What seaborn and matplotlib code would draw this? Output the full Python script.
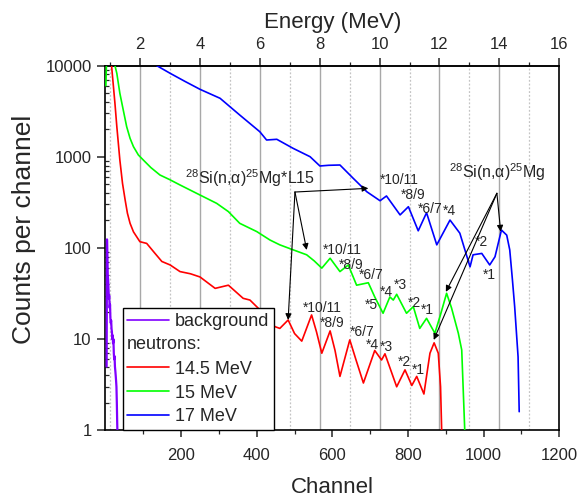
import numpy as np
import pandas as pd
import matplotlib
matplotlib.use("Agg")
import matplotlib.pyplot as plt
import seaborn as sns
from matplotlib.text import Text
from matplotlib.lines import Line2D
from matplotlib.ticker import FixedLocator, FuncFormatter, NullFormatter

# ---------------- data ----------------
bg_channel = [3, 4, 5, 6, 7, 8, 9, 10, 11, 12, 13, 14, 15, 16, 17, 18, 19, 20,
              21, 22, 23, 24, 25, 26, 27, 28, 29, 30, 31, 32]
bg_counts = [5, 124, 80, 50, 45, 35, 28, 30, 22, 24, 17, 15, 16, 13, 12, 10, 11, 9,
             10, 7, 6, 6.5, 5, 4.5, 4, 3.5, 3, 2, 1.2, 0.8]

n145_channel = [8, 16, 25, 30, 38, 45, 52, 58, 65, 74, 91, 109, 130, 149, 171, 197, 225,
                250, 290, 325, 364, 382, 404, 425, 448, 461, 483, 500, 519, 545, 558,
                572, 594, 607, 620, 646, 662, 682, 712, 730, 739, 770, 792, 810, 823,
                842, 858, 869, 880, 886, 889, 893]
n145_counts = [30000, 10000, 3850, 2133, 920, 511, 335, 240, 186, 150, 117, 112, 88, 71,
               65, 55, 52, 48, 36, 39, 28, 26.8, 21.8, 17, 13.7, 13.1, 16.2, 11.5, 9.5,
               18.4, 12, 7.0, 12.3, 7.5, 3.9, 9.8, 6.0, 3.3, 7.5, 5.9, 6.9, 3.0, 4.6, 3.1,
               3.9, 2.5, 7.0, 9.1, 7.0, 3.0, 1.0, 0.5]

n15_channel = [1, 3, 10, 25, 30, 34, 38, 47, 56, 65, 74, 87, 100, 120, 144, 170, 197, 250,
               294, 325, 355, 400, 435, 461, 497, 532, 552, 572, 594, 620, 642, 664, 695,
               712, 734, 752, 761, 770, 796, 814, 831, 849, 871, 885, 902, 915, 933, 942,
               950, 954]
n15_counts = [6000, 12000, 20000, 10000, 8200, 6380, 4960, 3250, 2135, 1590, 1288, 1044,
              920, 760, 630, 560, 490, 380, 308, 250, 186, 151, 122, 108, 95, 84, 72, 60,
              77, 55, 65, 39, 41.5, 29, 19.2, 29, 26.8, 31, 19.2, 22.7, 13.1, 16.9, 11.6,
              18, 31.8, 22, 11.6, 7.6, 1.0, 0.5]

n17_channel = [110, 135, 171, 210, 250, 303, 355, 408, 426, 453, 496, 541, 567, 590, 620,
               655, 682, 691, 726, 743, 779, 801, 827, 849, 876, 911, 937, 964, 972, 995,
               1016, 1030, 1047, 1061, 1069, 1076, 1082, 1091, 1094]
n17_counts = [14000, 10000, 8210, 6700, 5480, 4370, 2865, 1880, 1524, 1552, 1236, 1000,
              791, 805, 811, 580, 450, 413, 329, 371, 230, 283, 154, 243, 108, 202, 145,
              62, 84, 87, 65, 80, 157, 138, 95, 45, 22.7, 6.4, 1.6]

series_labels = ["background", "14.5 MeV", "15 MeV", "17 MeV"]
series_colors = ["#8000ff", "#ff0000", "#00ff00", "#0000ff"]

x_ticks = [200, 400, 600, 800, 1000, 1200]
y_ticks = [1, 10, 100, 1000, 10000]
energy_ticks = [2, 4, 6, 8, 10, 12, 14, 16]
energy_minor = [1, 3, 5, 7, 9, 11, 13, 15]

# peak labels: (text, channel, counts)
blue_labels = [("*10/11", 778, 556), ("*8/9", 813, 381), ("*6/7", 859, 267),
               ("*4", 909, 254), ("*2", 995, 116), ("*1", 1016, 50)]
green_labels = [("*10/11", 625, 95), ("*8/9", 649, 65), ("*6/7", 702, 50),
                ("*4", 744, 33), ("*3", 781, 39), ("*5", 704, 23.7),
                ("*2", 816, 24.9), ("*1", 850, 20.9)]
red_labels = [("*10/11", 572, 21.9), ("*8/9", 599, 15), ("*6/7", 678, 12),
              ("*4", 707, 8.6), ("*3", 744, 8.2), ("*2", 791, 5.6), ("*1", 828, 4.6)]

l15_text = (r"$^{28}$Si(n,α)$^{25}$Mg*L15", 382, 585)
l15_origin = (501, 410)
l15_targets = [(695, 450), (532, 95), (483, 16.2)]
gs_text = (r"$^{28}$Si(n,α)$^{25}$Mg", 1035, 679)
gs_origin = (1035, 397)
gs_targets = [(1045, 151), (900, 33), (868, 9.8)]

# ---------------- style ----------------
sns.set_style("ticks")
plt.rcParams["font.family"] = ["Liberation Sans", "DejaVu Sans"]
plt.rcParams["mathtext.fontset"] = "custom"
plt.rcParams["mathtext.rm"] = "Liberation Sans"
plt.rcParams["mathtext.it"] = "Liberation Sans:italic"
plt.rcParams["axes.linewidth"] = 1.2

fig = plt.figure(figsize=(5.87, 4.97), dpi=100)
ax = fig.add_axes([0.1797, 0.1342, 0.7731, 0.734])


def ch2e(ch):
    return 0.8489 + 0.012626 * np.asarray(ch, dtype=float)


def e2ch(e):
    return (np.asarray(e, dtype=float) - 0.8489) / 0.012626


# grid lines at energies
for e in energy_ticks[:-1]:
    ax.axvline(float(e2ch(e)), color="#a8a8a8", lw=1.0, zorder=0)
for e in energy_minor:
    ax.axvline(float(e2ch(e)), color="#c4c4c4", lw=0.9, ls=(0, (1.5, 1.5)), zorder=0)

all_series = [(bg_channel, bg_counts), (n145_channel, n145_counts),
              (n15_channel, n15_counts), (n17_channel, n17_counts)]
lines = []
for (xs, ys), lab, col in zip(all_series, series_labels, series_colors):
    df = pd.DataFrame({"Channel": xs, "Counts": ys})
    sns.lineplot(data=df, x="Channel", y="Counts", color=col,
                 lw=1.6 if lab == "background" else 1.2,
                 ax=ax, estimator=None, sort=False, legend=False, zorder=3)
    lines.append(Line2D([], [], color=col, lw=1.2))

ax.set_yscale("log")
ax.set_xlim(0, 1200)
ax.set_ylim(1, 10000)
ax.xaxis.set_major_locator(FixedLocator(x_ticks))
ax.xaxis.set_minor_locator(FixedLocator([100, 300, 500, 700, 900, 1100]))
ax.yaxis.set_major_locator(FixedLocator(y_ticks))
ax.yaxis.set_major_formatter(FuncFormatter(lambda v, p: f"{int(round(v))}"))
ax.yaxis.set_minor_formatter(NullFormatter())
ax.tick_params(axis="both", which="major", labelsize=12, direction="out", length=5, width=1.1)
ax.tick_params(axis="y", which="major", length=6, pad=4)
ax.tick_params(axis="y", which="minor", direction="in", length=3, width=0.9)
ax.tick_params(axis="x", which="minor", direction="out", length=3, width=0.9)
ax.tick_params(axis="x", which="major", pad=8)
ax.set_xlabel("Channel", fontsize=16, labelpad=10)
ax.set_ylabel("Counts per channel", fontsize=19)
ax.yaxis.set_label_coords(-0.153, 0.55)
for s in ax.spines.values():
    s.set_color("black")
    s.set_linewidth(1.2)

secax = ax.secondary_xaxis("top", functions=(ch2e, e2ch))
secax.xaxis.set_major_locator(FixedLocator(energy_ticks))
secax.xaxis.set_minor_locator(FixedLocator(energy_minor))
secax.tick_params(which="major", labelsize=12, direction="out", length=6, width=1.1, pad=4)
secax.tick_params(which="minor", direction="out", length=3, width=0.9)
secax.set_xlabel("Energy (MeV)", fontsize=16, labelpad=6)
secax.spines["top"].set_linewidth(1.2)

# peak labels
for group in (blue_labels, green_labels, red_labels):
    for t, cx, cy in group:
        ax.text(cx, cy, t, fontsize=10, ha="center", va="center", zorder=5)

# reaction annotations with arrows
for (txt, tx, ty), origin, targets in ((l15_text, l15_origin, l15_targets),
                                       (gs_text, gs_origin, gs_targets)):
    ax.text(tx, ty, txt, fontsize=11.5, ha="center", va="center", zorder=5)
    for tgt in targets:
        ax.annotate("", xy=tgt, xytext=origin,
                    arrowprops=dict(arrowstyle="-|>", color="black", lw=0.8,
                                    shrinkA=0, shrinkB=0, mutation_scale=9),
                    zorder=5)


# legend with a "neutrons:" heading row
class Heading:
    pass


class HeadingHandler:
    def legend_artist(self, legend, orig_handle, fontsize, handlebox):
        x0, y0 = handlebox.xdescent, handlebox.ydescent
        t = Text(-x0, -y0 + handlebox.height / 2.0 - 1, "neutrons:", fontsize=fontsize,
                 ha="left", va="center", transform=handlebox.get_transform())
        handlebox.add_artist(t)
        return t


handles = [lines[0], Heading(), lines[1], lines[2], lines[3]]
labels = ["background", "", "14.5 MeV", "15 MeV", "17 MeV"]
leg = ax.legend(handles, labels, handler_map={Heading: HeadingHandler()},
                loc="upper left", bbox_to_anchor=(0.038, 0.334), borderaxespad=0,
                fontsize=13, frameon=True, fancybox=False, framealpha=1,
                edgecolor="black", handlelength=2.3, handletextpad=0.35,
                labelspacing=0.38, borderpad=0.25)
leg.get_frame().set_linewidth(1.0)
leg.set_zorder(6)

fig.savefig("out.png", dpi=100)
